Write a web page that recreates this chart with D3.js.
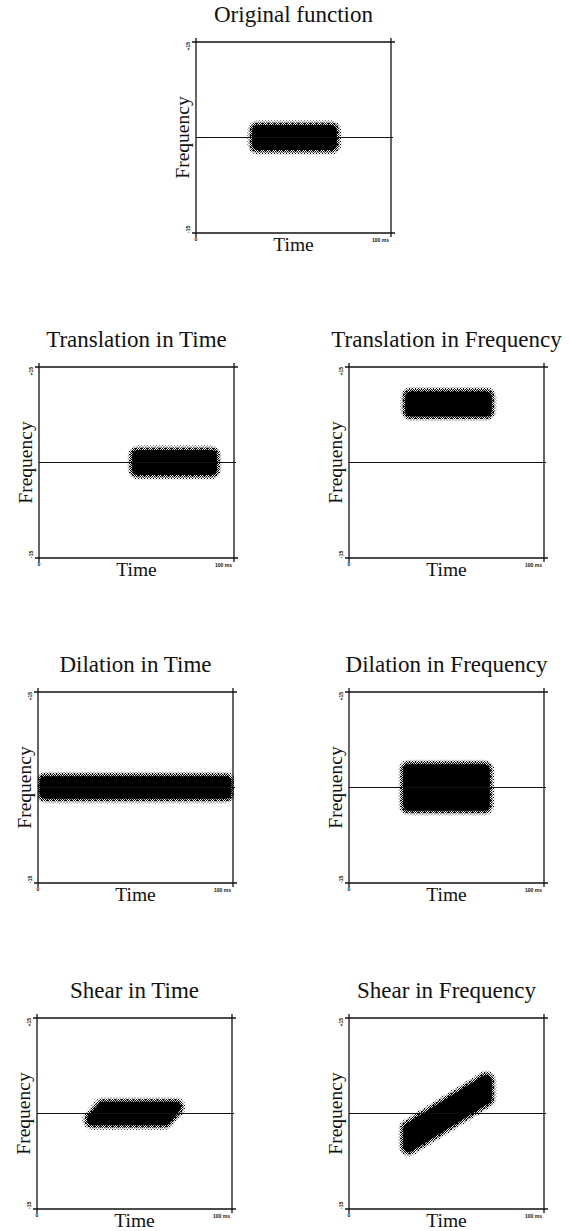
<!DOCTYPE html>
<html>
<head>
<meta charset="utf-8">
<script src="https://cdn.jsdelivr.net/npm/d3@7"></script>
<style>
  body { margin: 0; background: #fff; }
  svg { display: block; background: #fff; }
  .title, .label { font-family: "Liberation Serif", "Times New Roman", serif; fill: #111; }
  .title { font-size: 23px; }
  .label { font-size: 19.5px; }
  .tick-label { font-family: "Liberation Sans", Arial, sans-serif; font-size: 5px; font-weight: bold; fill: #111; }
  .frame { stroke: #111; stroke-width: 1.3; fill: none; }
  .zero { stroke: #111; stroke-width: 1.1; fill: none; }
</style>
</head>
<body>
<script>
(function () {
  'use strict';

  // one entry per panel
  var titles = ['Original function', 'Translation in Time', 'Translation in Frequency',
    'Dilation in Time', 'Dilation in Frequency', 'Shear in Time', 'Shear in Frequency'];

  // time extent of the signal (ms) at its centre frequency
  var timeStart = [28, 47, 28, 0, 27, 26.5, 27];
  var timeEnd   = [73, 92, 74, 100, 73, 73, 74];
  // centre frequency and bandwidth
  var freqCenter = [0, 0, 9.2, 0, 0, 0, 0];
  var bandwidth  = [4.4, 4.4, 4.4, 4.0, 7.8, 4.2, 5.4];
  // shear amounts
  var timeShear = [0, 0, 0, 0, 0, 2.8, 0];   // ms per frequency unit
  var freqShear = [0, 0, 0, 0, 0, 0, 0.19];  // frequency units per ms

  var timeDomain = [0, 100];
  var freqDomain = [-15, 15];
  var timeTicks = ['0', '100 ms'];
  var freqTicks = ['+15', '-15'];

  // layout
  var width = 570, height = 1231;
  var boxW = 195, boxH = 191;
  var boxLeft = [196, 39, 349, 38, 349, 37, 349];
  var boxTop  = [42, 367, 367, 692, 692, 1018, 1018];

  var x = d3.scaleLinear().domain(timeDomain).range([0, boxW]);
  var y = d3.scaleLinear().domain(freqDomain).range([boxH, 0]);

  var svg = d3.select('body').append('svg')
      .attr('width', width)
      .attr('height', height);

  var defs = svg.append('defs');

  // halftone patterns for the fuzzy edge
  var checker = defs.append('pattern')
      .attr('id', 'dotChecker')
      .attr('patternUnits', 'userSpaceOnUse')
      .attr('width', 2).attr('height', 2);
  checker.append('rect').attr('x', 0).attr('y', 0).attr('width', 1).attr('height', 1).attr('fill', '#000');
  checker.append('rect').attr('x', 1).attr('y', 1).attr('width', 1).attr('height', 1).attr('fill', '#000');

  var sparse = defs.append('pattern')
      .attr('id', 'dotSparse')
      .attr('patternUnits', 'userSpaceOnUse')
      .attr('width', 3).attr('height', 3);
  sparse.append('rect').attr('x', 0).attr('y', 0).attr('width', 1).attr('height', 1).attr('fill', '#000');
  sparse.append('rect').attr('x', 1.5).attr('y', 1.5).attr('width', 1).attr('height', 1).attr('fill', '#000');

  // move every edge of a convex polygon inward by d pixels
  function inset(pts, d) {
    var cx = d3.mean(pts, function (p) { return p[0]; });
    var cy = d3.mean(pts, function (p) { return p[1]; });
    var lines = pts.map(function (p, i) {
      var q = pts[(i + 1) % pts.length];
      var dx = q[0] - p[0], dy = q[1] - p[1];
      var len = Math.hypot(dx, dy);
      var nx = -dy / len, ny = dx / len;
      if ((cx - p[0]) * nx + (cy - p[1]) * ny < 0) { nx = -nx; ny = -ny; }
      return { x: p[0] + nx * d, y: p[1] + ny * d, dx: dx, dy: dy };
    });
    return lines.map(function (l, i) {
      var m = lines[(i + lines.length - 1) % lines.length];
      var den = m.dx * l.dy - m.dy * l.dx;
      var t = ((l.x - m.x) * l.dy - (l.y - m.y) * l.dx) / den;
      return [m.x + m.dx * t, m.y + m.dy * t];
    });
  }

  var line = d3.line().curve(d3.curveLinearClosed);

  titles.forEach(function (title, i) {
    var g = svg.append('g')
        .attr('transform', 'translate(' + boxLeft[i] + ',' + boxTop[i] + ')');

    defs.append('clipPath')
        .attr('id', 'clip' + i)
        .append('rect')
        .attr('width', boxW + 1).attr('height', boxH);

    // outline of the signal in the time-frequency plane
    var tc = (timeStart[i] + timeEnd[i]) / 2;
    var half = bandwidth[i] / 2;
    var corners = [[timeStart[i], -half], [timeEnd[i], -half], [timeEnd[i], half], [timeStart[i], half]];
    var pts = corners.map(function (c) {
      var t = c[0] + timeShear[i] * c[1];
      var f = freqCenter[i] + c[1] + freqShear[i] * (c[0] - tc);
      return [x(t), y(f)];
    });
    var core = inset(pts, 7);

    var blob = g.append('g').attr('clip-path', 'url(#clip' + i + ')');

    // zero-frequency line
    g.append('line')
        .attr('class', 'zero')
        .attr('x1', x(timeDomain[0])).attr('x2', x(timeDomain[1]) + 2)
        .attr('y1', y(0)).attr('y2', y(0));

    blob.append('path')
        .attr('d', line(core))
        .attr('fill', 'url(#dotSparse)')
        .attr('stroke', 'url(#dotSparse)')
        .attr('stroke-width', 20)
        .attr('stroke-linejoin', 'round');
    blob.append('path')
        .attr('d', line(core))
        .attr('fill', 'url(#dotChecker)')
        .attr('stroke', 'url(#dotChecker)')
        .attr('stroke-width', 16)
        .attr('stroke-linejoin', 'round');
    blob.append('path')
        .attr('d', line(core))
        .attr('fill', '#000')
        .attr('stroke', '#000')
        .attr('stroke-width', 11)
        .attr('stroke-linejoin', 'round');

    // frame with small crosses at the corners
    var x0 = x(timeDomain[0]), x1 = x(timeDomain[1]);
    var y0 = y(freqDomain[1]), y1 = y(freqDomain[0]);
    var ext = 4;
    [[x0 - ext, y0, x1 + ext, y0], [x0 - ext, y1, x1 + ext, y1],
     [x0, y0 - ext, x0, y1 + ext], [x1, y0 - ext, x1, y1 + ext]].forEach(function (s) {
      g.append('line')
          .attr('class', 'frame')
          .attr('x1', s[0]).attr('y1', s[1])
          .attr('x2', s[2]).attr('y2', s[3]);
    });

    // tiny tick labels
    g.append('text')
        .attr('class', 'tick-label')
        .attr('transform', 'translate(' + (x0 - 6) + ',' + y0 + ') rotate(-90)')
        .attr('text-anchor', 'end')
        .text(freqTicks[0]);
    g.append('text')
        .attr('class', 'tick-label')
        .attr('transform', 'translate(' + (x0 - 6) + ',' + y1 + ') rotate(-90)')
        .attr('text-anchor', 'start')
        .text(freqTicks[1]);
    g.append('text')
        .attr('class', 'tick-label')
        .attr('x', x0).attr('y', y1 + 8)
        .attr('text-anchor', 'middle')
        .text(timeTicks[0]);
    g.append('text')
        .attr('class', 'tick-label')
        .attr('x', x1 - 2).attr('y', y1 + 9)
        .attr('text-anchor', 'end')
        .text(timeTicks[1]);

    // titles and axis labels
    g.append('text')
        .attr('class', 'title')
        .attr('x', boxW / 2).attr('y', -20)
        .attr('text-anchor', 'middle')
        .text(title);
    g.append('text')
        .attr('class', 'label')
        .attr('x', boxW / 2).attr('y', boxH + 18)
        .attr('text-anchor', 'middle')
        .text('Time');
    g.append('text')
        .attr('class', 'label')
        .attr('transform', 'translate(-7,' + y(0) + ') rotate(-90)')
        .attr('text-anchor', 'middle')
        .text('Frequency');
  });
}());
</script>
</body>
</html>
